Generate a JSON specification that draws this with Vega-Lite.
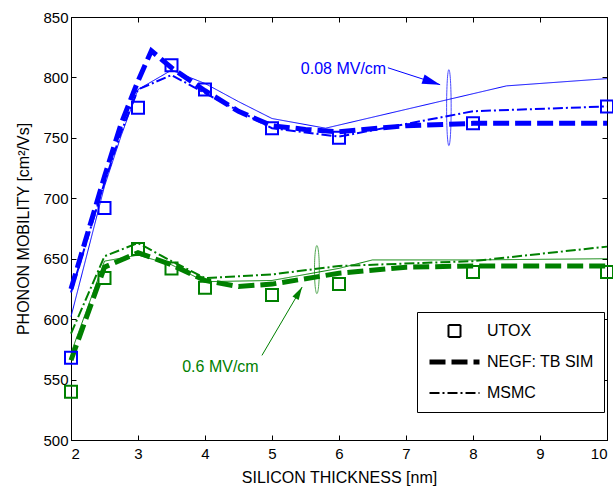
{
  "$schema": "https://vega.github.io/schema/vega-lite/v6.json",
  "width": 536,
  "height": 423,
  "autosize": {"type": "none"},
  "padding": {"left": 71, "top": 17, "right": 6, "bottom": 46},
  "background": "white",
  "config": {
    "font": "Liberation Sans",
    "view": {"stroke": "black", "strokeWidth": 1},
    "axis": {
      "grid": false, "domainColor": "black", "tickColor": "black",
      "labelColor": "black", "titleColor": "black",
      "labelFont": "Liberation Sans", "titleFont": "Liberation Sans",
      "labelFontSize": 15, "titleFontSize": 16, "titleFontWeight": "normal",
      "tickSize": -5, "domainWidth": 1
    }
  },
  "datasets": {
    "series": [
      {"x": 2, "y": 568, "field": "0.08", "type": "UTOX"},
      {"x": 2.5, "y": 692, "field": "0.08", "type": "UTOX"},
      {"x": 3, "y": 775, "field": "0.08", "type": "UTOX"},
      {"x": 3.5, "y": 810, "field": "0.08", "type": "UTOX"},
      {"x": 4, "y": 790, "field": "0.08", "type": "UTOX"},
      {"x": 5, "y": 758, "field": "0.08", "type": "UTOX"},
      {"x": 6, "y": 750, "field": "0.08", "type": "UTOX"},
      {"x": 8, "y": 762, "field": "0.08", "type": "UTOX"},
      {"x": 10, "y": 776, "field": "0.08", "type": "UTOX"},

      {"x": 2, "y": 625, "field": "0.08", "type": "NEGF: TB SIM"},
      {"x": 2.5, "y": 718, "field": "0.08", "type": "NEGF: TB SIM"},
      {"x": 2.75, "y": 762, "field": "0.08", "type": "NEGF: TB SIM"},
      {"x": 3, "y": 797, "field": "0.08", "type": "NEGF: TB SIM"},
      {"x": 3.2, "y": 822, "field": "0.08", "type": "NEGF: TB SIM"},
      {"x": 3.5, "y": 808, "field": "0.08", "type": "NEGF: TB SIM"},
      {"x": 4, "y": 789, "field": "0.08", "type": "NEGF: TB SIM"},
      {"x": 4.5, "y": 772, "field": "0.08", "type": "NEGF: TB SIM"},
      {"x": 5, "y": 760, "field": "0.08", "type": "NEGF: TB SIM"},
      {"x": 5.5, "y": 757, "field": "0.08", "type": "NEGF: TB SIM"},
      {"x": 6, "y": 755, "field": "0.08", "type": "NEGF: TB SIM"},
      {"x": 7, "y": 760, "field": "0.08", "type": "NEGF: TB SIM"},
      {"x": 8, "y": 762, "field": "0.08", "type": "NEGF: TB SIM"},
      {"x": 9, "y": 762, "field": "0.08", "type": "NEGF: TB SIM"},
      {"x": 10, "y": 762, "field": "0.08", "type": "NEGF: TB SIM"},

      {"x": 2, "y": 622, "field": "0.08", "type": "MSMC"},
      {"x": 2.5, "y": 713, "field": "0.08", "type": "MSMC"},
      {"x": 2.75, "y": 755, "field": "0.08", "type": "MSMC"},
      {"x": 3, "y": 790, "field": "0.08", "type": "MSMC"},
      {"x": 3.5, "y": 802, "field": "0.08", "type": "MSMC"},
      {"x": 4, "y": 787, "field": "0.08", "type": "MSMC"},
      {"x": 5, "y": 758, "field": "0.08", "type": "MSMC"},
      {"x": 6, "y": 751, "field": "0.08", "type": "MSMC"},
      {"x": 8, "y": 772, "field": "0.08", "type": "MSMC"},
      {"x": 10, "y": 776, "field": "0.08", "type": "MSMC"},

      {"x": 2, "y": 602, "field": "0.08", "type": "solid"},
      {"x": 2.5, "y": 710, "field": "0.08", "type": "solid"},
      {"x": 2.75, "y": 752, "field": "0.08", "type": "solid"},
      {"x": 3, "y": 790, "field": "0.08", "type": "solid"},
      {"x": 3.5, "y": 806, "field": "0.08", "type": "solid"},
      {"x": 4, "y": 795, "field": "0.08", "type": "solid"},
      {"x": 4.5, "y": 780, "field": "0.08", "type": "solid"},
      {"x": 5, "y": 766, "field": "0.08", "type": "solid"},
      {"x": 5.8, "y": 758, "field": "0.08", "type": "solid"},
      {"x": 8.5, "y": 793, "field": "0.08", "type": "solid"},
      {"x": 10, "y": 799, "field": "0.08", "type": "solid"},

      {"x": 2, "y": 540, "field": "0.6", "type": "UTOX"},
      {"x": 2.5, "y": 634, "field": "0.6", "type": "UTOX"},
      {"x": 3, "y": 658, "field": "0.6", "type": "UTOX"},
      {"x": 3.5, "y": 642, "field": "0.6", "type": "UTOX"},
      {"x": 4, "y": 626, "field": "0.6", "type": "UTOX"},
      {"x": 5, "y": 620, "field": "0.6", "type": "UTOX"},
      {"x": 6, "y": 629, "field": "0.6", "type": "UTOX"},
      {"x": 8, "y": 639, "field": "0.6", "type": "UTOX"},
      {"x": 10, "y": 639, "field": "0.6", "type": "UTOX"},

      {"x": 2, "y": 566, "field": "0.6", "type": "NEGF: TB SIM"},
      {"x": 2.5, "y": 643, "field": "0.6", "type": "NEGF: TB SIM"},
      {"x": 3, "y": 655, "field": "0.6", "type": "NEGF: TB SIM"},
      {"x": 3.5, "y": 645, "field": "0.6", "type": "NEGF: TB SIM"},
      {"x": 4, "y": 632, "field": "0.6", "type": "NEGF: TB SIM"},
      {"x": 4.5, "y": 627, "field": "0.6", "type": "NEGF: TB SIM"},
      {"x": 5, "y": 629, "field": "0.6", "type": "NEGF: TB SIM"},
      {"x": 6, "y": 638, "field": "0.6", "type": "NEGF: TB SIM"},
      {"x": 7, "y": 643, "field": "0.6", "type": "NEGF: TB SIM"},
      {"x": 8, "y": 644, "field": "0.6", "type": "NEGF: TB SIM"},
      {"x": 10, "y": 644, "field": "0.6", "type": "NEGF: TB SIM"},

      {"x": 2, "y": 588, "field": "0.6", "type": "MSMC"},
      {"x": 2.5, "y": 652, "field": "0.6", "type": "MSMC"},
      {"x": 3, "y": 663, "field": "0.6", "type": "MSMC"},
      {"x": 3.5, "y": 648, "field": "0.6", "type": "MSMC"},
      {"x": 4, "y": 634, "field": "0.6", "type": "MSMC"},
      {"x": 5, "y": 637, "field": "0.6", "type": "MSMC"},
      {"x": 6, "y": 644, "field": "0.6", "type": "MSMC"},
      {"x": 8, "y": 648, "field": "0.6", "type": "MSMC"},
      {"x": 10, "y": 660, "field": "0.6", "type": "MSMC"},

      {"x": 2, "y": 572, "field": "0.6", "type": "solid"},
      {"x": 2.5, "y": 648, "field": "0.6", "type": "solid"},
      {"x": 3, "y": 653, "field": "0.6", "type": "solid"},
      {"x": 3.5, "y": 645, "field": "0.6", "type": "solid"},
      {"x": 4, "y": 631, "field": "0.6", "type": "solid"},
      {"x": 5, "y": 632, "field": "0.6", "type": "solid"},
      {"x": 6, "y": 642, "field": "0.6", "type": "solid"},
      {"x": 6.5, "y": 649, "field": "0.6", "type": "solid"},
      {"x": 8, "y": 649, "field": "0.6", "type": "solid"},
      {"x": 10, "y": 650, "field": "0.6", "type": "solid"}
    ],
    "labels": [
      {"x": 5.43, "y": 807, "field": "0.08", "label": "0.08 MV/cm"},
      {"x": 3.66, "y": 560, "field": "0.6", "label": "0.6 MV/cm"}
    ],
    "ellipses": [
      {"x": 7.64, "y": 775, "field": "0.08"},
      {"x": 5.67, "y": 641, "field": "0.6"}
    ],
    "arrows": [
      {"x": 6.73, "y": 808, "x2": 7.51, "y2": 794, "field": "0.08"},
      {"x": 4.85, "y": 570, "x2": 5.45, "y2": 626.6, "field": "0.6"}
    ]
  },
  "resolve": {"axis": {"x": "independent", "y": "independent"}},
  "layer": [
    {
      "data": {"name": "series"},
      "transform": [{"filter": "datum.type !== 'UTOX'"}],
      "mark": {"type": "line", "strokeCap": "butt"},
      "encoding": {
        "x": {"field": "x", "type": "quantitative",
              "scale": {"domain": [2, 10], "nice": false, "zero": false},
              "axis": {"orient": "bottom", "values": [2,3,4,5,6,7,8,9,10], "title": "SILICON THICKNESS [nm]", "labelPadding": 11, "titlePadding": 8}},
        "y": {"field": "y", "type": "quantitative",
              "scale": {"domain": [500, 850], "nice": false, "zero": false},
              "axis": {"orient": "left", "values": [500,550,600,650,700,750,800,850], "title": "PHONON MOBILITY [cm²/Vs]", "labelPadding": 8, "titleX": -48, "titleBaseline": "middle"}},
        "color": {"field": "field", "type": "nominal",
                  "scale": {"domain": ["0.08", "0.6"], "range": ["#0000ff", "#008000"]}, "legend": null},
        "strokeDash": {"field": "type", "type": "nominal",
                       "scale": {"type": "ordinal", "domain": ["UTOX", "NEGF: TB SIM", "MSMC", "solid"], "range": [[1, 0], [16, 6], [10, 3, 2, 3], [1, 0]]},
                       "legend": {"title": null, "orient": "none", "legendX": 346, "legendY": 295, "values": ["UTOX", "NEGF: TB SIM", "MSMC"], "symbolSize": 2500, "clipHeight": 18, "rowPadding": 13, "padding": 10, "labelOffset": 5, "labelFontSize": 16, "labelFont": "Liberation Sans", "labelColor": "black", "strokeColor": "black", "fillColor": "white", "cornerRadius": 0, "encode": {"symbols": {"update": {"stroke": {"value": "black"}, "fill": {"value": "transparent"}}}}}},
        "strokeWidth": {"field": "type", "type": "nominal",
                        "scale": {"type": "ordinal", "domain": ["UTOX", "NEGF: TB SIM", "MSMC", "solid"], "range": [2, 5, 2, 1]},
                        "legend": {"title": null, "orient": "none", "legendX": 346, "legendY": 295, "values": ["UTOX", "NEGF: TB SIM", "MSMC"], "symbolSize": 2500, "clipHeight": 18, "rowPadding": 13, "padding": 10, "labelOffset": 5, "labelFontSize": 16, "labelFont": "Liberation Sans", "labelColor": "black", "strokeColor": "black", "fillColor": "white", "cornerRadius": 0, "encode": {"symbols": {"update": {"stroke": {"value": "black"}, "fill": {"value": "transparent"}}}}}}
      }
    },
    {
      "data": {"name": "series"},
      "transform": [{"filter": "datum.type === 'UTOX'"}],
      "mark": {"type": "point", "filled": false, "strokeWidth": 2, "size": 2500, "opacity": 1},
      "encoding": {
        "x": {"field": "x", "type": "quantitative", "axis": {"orient": "top", "values": [2,3,4,5,6,7,8,9,10], "labels": false, "title": null}},
        "y": {"field": "y", "type": "quantitative", "axis": {"orient": "right", "values": [500,550,600,650,700,750,800,850], "labels": false, "title": null}},
        "color": {"field": "field", "type": "nominal", "legend": null},
        "shape": {"field": "type", "type": "nominal",
                  "scale": {"domain": ["UTOX", "NEGF: TB SIM", "MSMC", "solid"], "range": ["M-0.24,-0.24L0.24,-0.24L0.24,0.24L-0.24,0.24Z", "stroke", "stroke", "stroke"]},
                  "legend": {"title": null, "orient": "none", "legendX": 346, "legendY": 295, "values": ["UTOX", "NEGF: TB SIM", "MSMC"], "symbolSize": 2500, "clipHeight": 18, "rowPadding": 13, "padding": 10, "labelOffset": 5, "labelFontSize": 16, "labelFont": "Liberation Sans", "labelColor": "black", "strokeColor": "black", "fillColor": "white", "cornerRadius": 0, "encode": {"symbols": {"update": {"stroke": {"value": "black"}, "fill": {"value": "transparent"}}}}}}
      }
    },
    {
      "data": {"name": "ellipses"},
      "transform": [{"filter": "datum.field === '0.08'"}],
      "mark": {"type": "point", "filled": false, "strokeWidth": 1, "size": 5776, "shape": "M0,-1A0.06,1,0,1,1,0,1A0.06,1,0,1,1,0,-1Z"},
      "encoding": {
        "x": {"field": "x", "type": "quantitative", "axis": null},
        "y": {"field": "y", "type": "quantitative", "axis": null},
        "color": {"field": "field", "type": "nominal", "legend": null}
      }
    },
    {
      "data": {"name": "ellipses"},
      "transform": [{"filter": "datum.field === '0.6'"}],
      "mark": {"type": "point", "filled": false, "strokeWidth": 1, "size": 2304, "shape": "M0,-1A0.1,1,0,1,1,0,1A0.1,1,0,1,1,0,-1Z"},
      "encoding": {
        "x": {"field": "x", "type": "quantitative", "axis": null},
        "y": {"field": "y", "type": "quantitative", "axis": null},
        "color": {"field": "field", "type": "nominal", "legend": null}
      }
    },
    {
      "data": {"name": "arrows"},
      "mark": {"type": "rule", "strokeWidth": 1},
      "encoding": {
        "x": {"field": "x", "type": "quantitative", "axis": null},
        "y": {"field": "y", "type": "quantitative", "axis": null},
        "x2": {"field": "x2"},
        "y2": {"field": "y2"},
        "color": {"field": "field", "type": "nominal", "legend": null}
      }
    },
    {
      "data": {"name": "arrows"},
      "transform": [{"filter": "datum.field === '0.08'"}],
      "mark": {"type": "point", "filled": true, "opacity": 1, "size": 324, "angle": 18, "shape": "M0,0L-2,-0.55L-2,0.55Z"},
      "encoding": {
        "x": {"field": "x2", "type": "quantitative", "axis": null},
        "y": {"field": "y2", "type": "quantitative", "axis": null},
        "color": {"field": "field", "type": "nominal", "legend": null}
      }
    },
    {
      "data": {"name": "arrows"},
      "transform": [{"filter": "datum.field === '0.6'"}],
      "mark": {"type": "point", "filled": true, "opacity": 1, "size": 169, "angle": -59.5, "shape": "M0,0L-2,-0.55L-2,0.55Z"},
      "encoding": {
        "x": {"field": "x2", "type": "quantitative", "axis": null},
        "y": {"field": "y2", "type": "quantitative", "axis": null},
        "color": {"field": "field", "type": "nominal", "legend": null}
      }
    },
    {
      "data": {"name": "labels"},
      "mark": {"type": "text", "align": "left", "baseline": "middle", "fontSize": 16, "font": "Liberation Sans"},
      "encoding": {
        "x": {"field": "x", "type": "quantitative", "axis": null},
        "y": {"field": "y", "type": "quantitative", "axis": null},
        "text": {"field": "label"},
        "color": {"field": "field", "type": "nominal", "legend": null}
      }
    }
  ]
}
